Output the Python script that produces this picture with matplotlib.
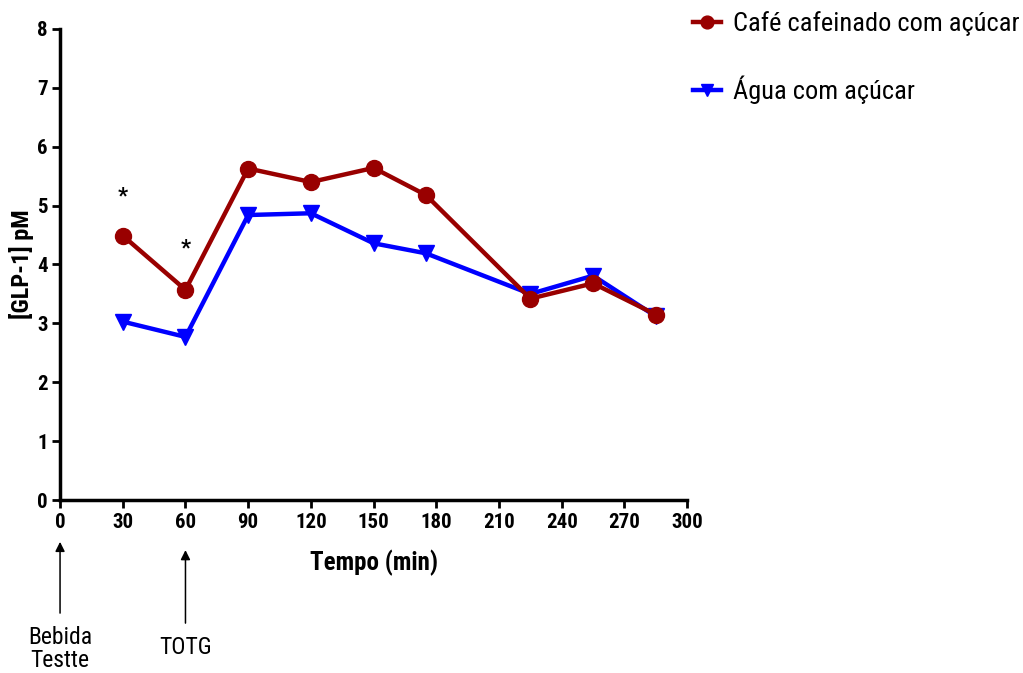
import matplotlib
matplotlib.use("Agg")
import matplotlib.pyplot as plt

plt.rcParams['font.family'] = ['Roboto Condensed', 'Liberation Sans', 'DejaVu Sans']

# Sampling times (min)
time_cafe = [30, 60, 90, 120, 150, 175, 225, 255, 285]
time_agua = [30, 60, 90, 120, 150, 175, 225, 255, 285]
# GLP-1 concentrations (pM)
glp1_cafe = [4.49, 3.57, 5.63, 5.40, 5.64, 5.18, 3.42, 3.68, 3.15]
glp1_agua = [3.03, 2.77, 4.84, 4.87, 4.36, 4.19, 3.50, 3.81, 3.12]
label_cafe = "Café cafeinado com açúcar"
label_agua = "Água com açúcar"
# Significance marks
star_x = [30, 60]
star_y = [5.15, 4.28]
x_ticks = list(range(0, 301, 30))
y_ticks = list(range(0, 9))

fig = plt.figure(figsize=(10.23, 6.73), dpi=100)
ax = fig.add_axes([0.0587, 0.257, 0.613, 0.700])

red = "#990000"
blue = "#0000ff"
ax.plot(time_agua, glp1_agua, color=blue, lw=3.2, marker='v', ms=11,
        label=label_agua, zorder=3)
ax.plot(time_cafe, glp1_cafe, color=red, lw=3.2, marker='o', ms=11.5,
        label=label_cafe, zorder=4)

for sx, sy in zip(star_x, star_y):
    ax.text(sx, sy, "*", ha='center', va='center', fontsize=16,
            fontweight='bold', color='black')

ax.set_xlim(0, 300)
ax.set_ylim(0, 8)
ax.set_xticks(x_ticks)
ax.set_yticks(y_ticks)
for side in ('top', 'right'):
    ax.spines[side].set_visible(False)
for side in ('left', 'bottom'):
    ax.spines[side].set_linewidth(2.5)
ax.tick_params(direction='out', length=6, width=2, labelsize=15, pad=3)
for lbl in ax.get_xticklabels() + ax.get_yticklabels():
    lbl.set_fontweight('bold')

ax.set_xlabel("Tempo (min)", fontsize=18, fontweight='bold', labelpad=13)
ax.set_ylabel("[GLP-1] pM", fontsize=17.5, fontweight='bold', labelpad=2)

# Event arrows below the time axis
arrow_kw = dict(arrowstyle='-|>', color='black', lw=1.1, mutation_scale=14,
                shrinkA=0, shrinkB=0)
ax.annotate("", xy=(0, -0.71), xytext=(0, -1.92), xycoords='data',
            arrowprops=arrow_kw, annotation_clip=False)
ax.annotate("", xy=(60, -0.85), xytext=(60, -2.09), xycoords='data',
            arrowprops=arrow_kw, annotation_clip=False)
ax.text(0, -2.53, "Bebida\nTestte", ha='center', va='center', fontsize=17,
        linespacing=1.05, clip_on=False)
ax.text(60, -2.50, "TOTG", ha='center', va='center', fontsize=17,
        clip_on=False)

handles, labels = ax.get_legend_handles_labels()
leg = fig.legend(handles[::-1], labels[::-1], loc='upper left',
                 bbox_to_anchor=(0.6774, 0.983), frameon=False, fontsize=19,
                 borderpad=0, borderaxespad=0,
                 handlelength=1.06, handletextpad=0.45, labelspacing=1.5,
                 markerscale=0.8)

fig.savefig("out.png", dpi=100)
